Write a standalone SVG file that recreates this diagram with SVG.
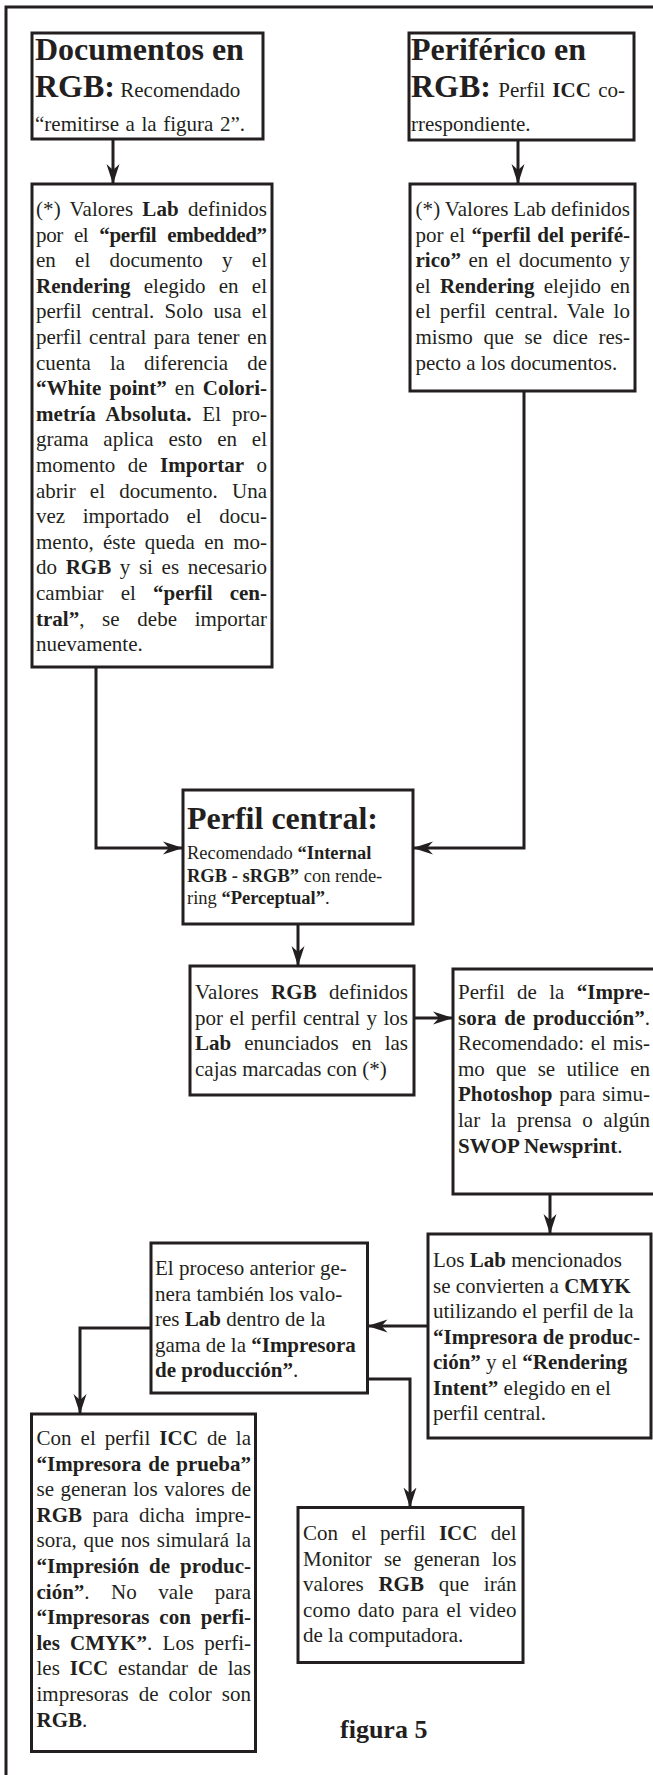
<svg xmlns="http://www.w3.org/2000/svg" width="653" height="1775" viewBox="0 0 653 1775">
<style>
.box{fill:#fff;stroke:#231f20;stroke-width:3}
.t{font-family:"Liberation Serif","Times New Roman",serif;font-size:21px;fill:#231f20}
.b{font-weight:bold}
.h{font-size:32px;font-weight:bold}
.s{font-size:18.5px}
.conn{fill:none;stroke:#231f20;stroke-width:3;marker-end:url(#ah)}
.frame{fill:none;stroke:#231f20;stroke-width:3}
</style>
<defs>
<marker id="ah" markerUnits="userSpaceOnUse" markerWidth="22" markerHeight="14" refX="20" refY="7" orient="auto" viewBox="0 0 22 14">
<path d="M0,0.5 L20,7 L0,13.5 L6,7 Z" fill="#231f20"/>
</marker>
</defs>
<rect width="653" height="1775" fill="#fff"/>
<path class="frame" d="M6,1775 V7 H653"/>

<g id="connectors">
<path class="conn" d="M113,139 V184"/>
<path class="conn" d="M518,140 V184"/>
<path class="conn" d="M96,667 V848 H183"/>
<path class="conn" d="M524,391 V848 H413"/>
<path class="conn" d="M298,924 V966"/>
<path class="conn" d="M414,1018 H453"/>
<path class="conn" d="M550,1194 V1234"/>
<path class="conn" d="M428,1326 H367.5"/>
<path class="conn" d="M151,1328 H80 V1414"/>
<path class="conn" d="M367.5,1379 H410 V1507.5"/>
</g>

<g id="doc-rgb">
<rect class="box" x="32" y="33" width="231" height="106"/>
<text class="t h" x="35" y="60">Documentos en</text>
<text class="t" x="35" y="97"><tspan class="h">RGB:</tspan> Recomendado</text>
<text class="t" x="35" y="131" word-spacing="1.3" textLength="210">“remitirse a la figura 2”.</text>
</g>

<g id="periferico-rgb">
<rect class="box" x="409" y="33" width="225" height="107"/>
<text class="t h" x="411" y="60">Periférico en</text>
<text class="t" x="411" y="97" word-spacing="2.1" textLength="214"><tspan class="h">RGB:</tspan> Perfil <tspan class="b">ICC</tspan> co-</text>
<text class="t" x="411" y="131">rrespondiente.</text>
</g>

<g id="lab-doc">
<rect class="box" x="32" y="184" width="240" height="483"/>
<text class="t" x="36" y="216" word-spacing="3.7" textLength="231">(*) Valores <tspan class="b">Lab</tspan> definidos</text>
<text class="t" x="36" y="241.6" word-spacing="6.1" textLength="231">por el <tspan class="b">“perfil embedded”</tspan></text>
<text class="t" x="36" y="267.2" word-spacing="14" textLength="231">en el documento y el</text>
<text class="t" x="36" y="292.8" word-spacing="8" textLength="231"><tspan class="b">Rendering</tspan> elegido en el</text>
<text class="t" x="36" y="318.4" word-spacing="5.1" textLength="231">perfil central. Solo usa el</text>
<text class="t" x="36" y="344" word-spacing="2.35" textLength="231">perfil central para tener en</text>
<text class="t" x="36" y="369.6" word-spacing="13.8" textLength="231">cuenta la diferencia de</text>
<text class="t" x="36" y="395.2" word-spacing="2.9" textLength="231"><tspan class="b">“White point”</tspan> en <tspan class="b">Colori-</tspan></text>
<text class="t" x="36" y="420.8" word-spacing="5.5" textLength="231"><tspan class="b">metría Absoluta.</tspan> El pro-</text>
<text class="t" x="36" y="446.4" word-spacing="9.6" textLength="231">grama aplica esto en el</text>
<text class="t" x="36" y="472" word-spacing="7.2" textLength="231">momento de <tspan class="b">Importar</tspan> o</text>
<text class="t" x="36" y="497.6" word-spacing="9" textLength="231">abrir el documento. Una</text>
<text class="t" x="36" y="523.2" word-spacing="12.3" textLength="231">vez importado el docu-</text>
<text class="t" x="36" y="548.8" word-spacing="3.95" textLength="231">mento, éste queda en mo-</text>
<text class="t" x="36" y="574.4" word-spacing="3.4" textLength="231">do <tspan class="b">RGB</tspan> y si es necesario</text>
<text class="t" x="36" y="600" word-spacing="11.9" textLength="231">cambiar el <tspan class="b">“perfil cen-</tspan></text>
<text class="t" x="36" y="625.6" word-spacing="12.5" textLength="231"><tspan class="b">tral”</tspan>, se debe importar</text>
<text class="t" x="36" y="651.2">nuevamente.</text>
</g>

<g id="lab-periferico">
<rect class="box" x="410" y="184" width="225" height="207"/>
<text class="t" x="415.5" y="216" word-spacing="-0.6" textLength="214.5">(*) Valores Lab definidos</text>
<text class="t" x="415.5" y="241.6" word-spacing="1.1" textLength="214.5">por el <tspan class="b">“perfil del perifé-</tspan></text>
<text class="t" x="415.5" y="267.2" word-spacing="2.3" textLength="214.5"><tspan class="b">rico”</tspan> en el documento y</text>
<text class="t" x="415.5" y="292.8" word-spacing="4" textLength="214.5">el <tspan class="b">Rendering</tspan> elejido en</text>
<text class="t" x="415.5" y="318.4" word-spacing="3.6" textLength="214.5">el perfil central. Vale lo</text>
<text class="t" x="415.5" y="344" word-spacing="5.5" textLength="214.5">mismo que se dice res-</text>
<text class="t" x="415.5" y="369.6">pecto a los documentos.</text>
</g>

<g id="perfil-central">
<rect class="box" x="183" y="790" width="230" height="134"/>
<text class="t h" x="187" y="829">Perfil central:</text>
<text class="t s" x="187" y="859">Recomendado <tspan class="b">“Internal</tspan></text>
<text class="t s" x="187" y="881.5"><tspan class="b">RGB - sRGB”</tspan> con rende-</text>
<text class="t s" x="187" y="904">ring <tspan class="b">“Perceptual”</tspan>.</text>
</g>

<g id="valores-rgb">
<rect class="box" x="190" y="966" width="224" height="129"/>
<text class="t" x="195" y="999" word-spacing="6.75" textLength="213">Valores <tspan class="b">RGB</tspan> definidos</text>
<text class="t" x="195" y="1024.6" word-spacing="1.2" textLength="213">por el perfil central y los</text>
<text class="t" x="195" y="1050.2" word-spacing="7.8" textLength="213"><tspan class="b">Lab</tspan> enunciados en las</text>
<text class="t" x="195" y="1075.8">cajas marcadas con (*)</text>
</g>

<g id="impresora-produccion">
<rect class="box" x="453" y="969" width="210" height="225"/>
<text class="t" x="458" y="999" word-spacing="7" textLength="192">Perfil de la <tspan class="b">“Impre-</tspan></text>
<text class="t" x="458" y="1024.6" word-spacing="2.35" textLength="192"><tspan class="b">sora de producción”</tspan>.</text>
<text class="t" x="458" y="1050.2" word-spacing="1.5" textLength="192">Recomendado: el mis-</text>
<text class="t" x="458" y="1075.8" word-spacing="6" textLength="192">mo que se utilice en</text>
<text class="t" x="458" y="1101.4" word-spacing="1.5" textLength="192"><tspan class="b">Photoshop</tspan> para simu-</text>
<text class="t" x="458" y="1127" word-spacing="5.4" textLength="192">lar la prensa o algún</text>
<text class="t" x="458" y="1152.6"><tspan class="b">SWOP Newsprint</tspan>.</text>
</g>

<g id="lab-cmyk">
<rect class="box" x="428" y="1234" width="223" height="204"/>
<text class="t" x="433" y="1267.3">Los <tspan class="b">Lab</tspan> mencionados</text>
<text class="t" x="433" y="1292.8">se convierten a <tspan class="b">CMYK</tspan></text>
<text class="t" x="433" y="1318.3">utilizando el perfil de la</text>
<text class="t" x="433" y="1343.8"><tspan class="b">“Impresora de produc-</tspan></text>
<text class="t" x="433" y="1369.3"><tspan class="b">ción”</tspan> y el <tspan class="b">“Rendering</tspan></text>
<text class="t" x="433" y="1394.8"><tspan class="b">Intent”</tspan> elegido en el</text>
<text class="t" x="433" y="1420.3">perfil central.</text>
</g>

<g id="proceso-anterior">
<rect class="box" x="151" y="1243" width="216.5" height="150"/>
<text class="t" x="155" y="1275">El proceso anterior ge-</text>
<text class="t" x="155" y="1300.6">nera también los valo-</text>
<text class="t" x="155" y="1326.2">res <tspan class="b">Lab</tspan> dentro de la</text>
<text class="t" x="155" y="1351.8">gama de la <tspan class="b">“Impresora</tspan></text>
<text class="t" x="155" y="1377.4"><tspan class="b">de producción”</tspan>.</text>
</g>

<g id="impresora-prueba">
<rect class="box" x="31.5" y="1414" width="224" height="337.5"/>
<text class="t" x="36.5" y="1445" word-spacing="3.8" textLength="214.5">Con el perfil <tspan class="b">ICC</tspan> de la</text>
<text class="t" x="36.5" y="1470.6" word-spacing="1.65" textLength="214.5"><tspan class="b">“Impresora de prueba”</tspan></text>
<text class="t" x="36.5" y="1496.2" word-spacing="1.15" textLength="214.5">se generan los valores de</text>
<text class="t" x="36.5" y="1521.8" word-spacing="5.2" textLength="214.5"><tspan class="b">RGB</tspan> para dicha impre-</text>
<text class="t" x="36.5" y="1547.4" word-spacing="1.6" textLength="214.5">sora, que nos simulará la</text>
<text class="t" x="36.5" y="1573" word-spacing="4.6" textLength="214.5"><tspan class="b">“Impresión de produc-</tspan></text>
<text class="t" x="36.5" y="1598.6" word-spacing="16.3" textLength="214.5"><tspan class="b">ción”</tspan>. No vale para</text>
<text class="t" x="36.5" y="1624.2" word-spacing="4.6" textLength="214.5"><tspan class="b">“Impresoras con perfi-</tspan></text>
<text class="t" x="36.5" y="1649.8" word-spacing="5" textLength="214.5"><tspan class="b">les CMYK”</tspan>. Los perfi-</text>
<text class="t" x="36.5" y="1675.4" word-spacing="4.6" textLength="214.5">les <tspan class="b">ICC</tspan> estandar de las</text>
<text class="t" x="36.5" y="1701" word-spacing="4.8" textLength="214.5">impresoras de color son</text>
<text class="t" x="36.5" y="1726.6"><tspan class="b">RGB</tspan>.</text>
</g>

<g id="monitor">
<rect class="box" x="298" y="1507.5" width="225" height="155"/>
<text class="t" x="303" y="1540" word-spacing="8.2" textLength="213.5">Con el perfil <tspan class="b">ICC</tspan> del</text>
<text class="t" x="303" y="1565.6" word-spacing="6.8" textLength="213.5">Monitor se generan los</text>
<text class="t" x="303" y="1591.2" word-spacing="9.5" textLength="213.5">valores <tspan class="b">RGB</tspan> que irán</text>
<text class="t" x="303" y="1616.8" word-spacing="1.6" textLength="213.5">como dato para el video</text>
<text class="t" x="303" y="1642.4">de la computadora.</text>
</g>

<g id="caption">
<text class="t b" x="340" y="1738" style="font-size:26px">figura 5</text>
</g>
</svg>
